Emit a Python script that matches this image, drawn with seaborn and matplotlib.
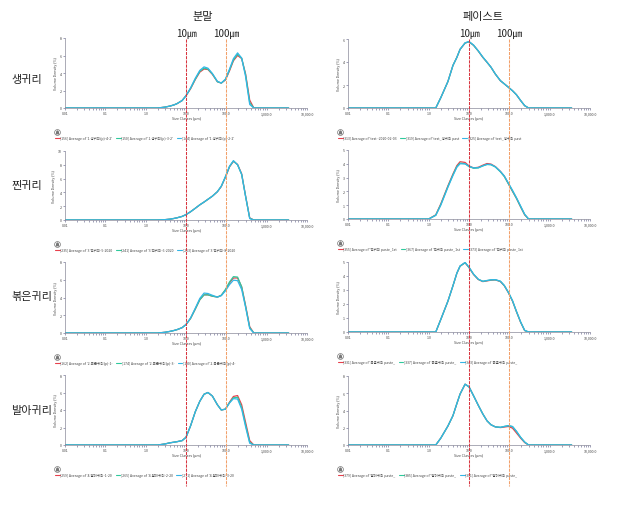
import numpy as np
import pandas as pd
import matplotlib
matplotlib.use("Agg")
import matplotlib.pyplot as plt
import seaborn as sns
from matplotlib.ticker import FixedLocator, FixedFormatter, LogLocator, NullFormatter
from matplotlib.transforms import blended_transform_factory
from matplotlib.lines import Line2D

sns.set_theme(style="white")
plt.rcParams["font.family"] = ["Noto Sans CJK KR", "DejaVu Sans"]
plt.rcParams["axes.unicode_minus"] = False

# ---------------- data ----------------
SIZES = [0.01, 1.0, 1.5, 2, 3, 4, 5, 6, 8, 10, 13, 17, 22, 28, 35, 45, 60, 75, 95,
         120, 150, 190, 240, 300, 380, 480, 600, 3500]

X_TICKS = [0.01, 0.1, 1, 10, 100, 1000, 10000]
X_TICK_LABELS = ["0.01", "0.1", "1.0", "10.0", "100.0", "1,000.0", "10,000.0"]

ROW_LABELS = ["생귀리", "찐귀리", "볶은귀리", "발아귀리"]
COL_TITLES = ["분말", "페이스트"]
REF_SIZES = [10, 100]
REF_LABELS = ["10㎛", "100㎛"]

# raw oat powder
raw_pow_red = [0, 0, 0, 0, 0.1, 0.22, 0.35, 0.5, 0.85, 1.4, 2.2, 3.25, 4.1, 4.45, 4.4, 3.85, 3.0, 2.85, 3.2, 4.25, 5.4, 6.0, 5.65, 3.9, 0.9, 0, 0, 0]
raw_pow_green = [0, 0, 0, 0, 0.1, 0.22, 0.35, 0.5, 0.85, 1.4, 2.25, 3.3, 4.2, 4.55, 4.45, 3.9, 3.0, 2.85, 3.25, 4.35, 5.5, 6.15, 5.7, 3.8, 0.6, 0, 0, 0]
raw_pow_cyan = [0, 0, 0, 0, 0.1, 0.22, 0.35, 0.5, 0.85, 1.4, 2.3, 3.4, 4.3, 4.7, 4.55, 3.95, 3.05, 2.85, 3.3, 4.45, 5.65, 6.3, 5.7, 3.6, 0.4, 0, 0, 0]
raw_pow_labels = ["[156] Average of '1.생귀리(p)-4-2'", "[150] Average of '1.생귀리(p)-3-2'", "[144] Average of '1.생귀리(p)-2-2'"]

# raw oat paste
raw_pas_red = [0, 0, 0, 0.9, 2.3, 3.7, 4.4, 5.1, 5.65, 5.75, 5.45, 4.95, 4.4, 3.97, 3.55, 2.95, 2.37, 2.1, 1.8, 1.5, 1.15, 0.65, 0.2, 0, 0, 0, 0, 0]
raw_pas_green = [0, 0, 0, 0.9, 2.3, 3.7, 4.4, 5.1, 5.65, 5.77, 5.45, 4.95, 4.42, 3.98, 3.55, 2.95, 2.38, 2.1, 1.8, 1.5, 1.15, 0.66, 0.2, 0, 0, 0, 0, 0]
raw_pas_cyan = [0, 0, 0, 0.9, 2.3, 3.7, 4.4, 5.1, 5.67, 5.78, 5.47, 4.97, 4.43, 3.98, 3.56, 2.96, 2.38, 2.1, 1.81, 1.5, 1.16, 0.66, 0.21, 0, 0, 0, 0, 0]
raw_pas_labels = ["[313] Average of 'test -2020-02-03", "[319] Average of 'test_생귀리 past", "[325] Average of 'test_생귀리 past"]

# steamed oat powder
stm_pow_red = [0, 0, 0, 0, 0.05, 0.12, 0.22, 0.32, 0.52, 0.78, 1.2, 1.7, 2.2, 2.6, 3.0, 3.45, 4.1, 4.85, 6.2, 7.7, 8.5, 8.05, 6.7, 3.5, 0.3, 0, 0, 0]
stm_pow_green = [0, 0, 0, 0, 0.05, 0.12, 0.22, 0.32, 0.52, 0.78, 1.2, 1.7, 2.2, 2.6, 3.0, 3.45, 4.1, 4.9, 6.25, 7.75, 8.55, 8.0, 6.6, 3.45, 0.25, 0, 0, 0]
stm_pow_cyan = [0, 0, 0, 0, 0.05, 0.12, 0.22, 0.32, 0.52, 0.78, 1.2, 1.7, 2.2, 2.6, 3.0, 3.45, 4.1, 4.9, 6.3, 7.8, 8.6, 8.0, 6.6, 3.4, 0.2, 0, 0, 0]
stm_pow_labels = ["[235] Average of '3.찐귀리-5-2020", "[241] Average of '3.찐귀리-6-2020", "[253] Average of '3.찐귀리-8-2020"]

# steamed oat paste
stm_pas_red = [0, 0, 0.3, 1.1, 2.4, 3.26, 3.87, 4.15, 4.1, 3.85, 3.7, 3.75, 3.9, 4.02, 3.98, 3.8, 3.45, 3.1, 2.55, 2.0, 1.5, 0.88, 0.3, 0, 0, 0, 0, 0]
stm_pas_green = [0, 0, 0.28, 1.05, 2.35, 3.2, 3.8, 4.05, 4.0, 3.8, 3.68, 3.7, 3.85, 3.95, 3.93, 3.77, 3.42, 3.08, 2.55, 2.02, 1.5, 0.9, 0.32, 0, 0, 0, 0, 0]
stm_pas_cyan = [0, 0, 0.26, 1.0, 2.3, 3.15, 3.75, 4.0, 4.0, 3.82, 3.7, 3.72, 3.85, 3.96, 3.95, 3.78, 3.45, 3.12, 2.6, 2.08, 1.55, 0.95, 0.35, 0, 0, 0, 0, 0]
stm_pas_labels = ["[355] Average of '찐귀리 paste_1st", "[367] Average of '찐귀리 paste_1st", "[373] Average of '찐귀리 paste_1st"]

# roasted oat powder
rst_pow_red = [0, 0, 0, 0, 0.08, 0.18, 0.28, 0.38, 0.6, 0.95, 1.65, 2.7, 3.75, 4.3, 4.3, 4.15, 4.05, 4.25, 4.85, 5.65, 6.2, 6.2, 5.2, 3.1, 0.7, 0, 0, 0]
rst_pow_green = [0, 0, 0, 0, 0.08, 0.18, 0.28, 0.38, 0.6, 0.95, 1.65, 2.7, 3.75, 4.3, 4.3, 4.15, 4.05, 4.25, 4.9, 5.75, 6.35, 6.3, 5.2, 3.0, 0.6, 0, 0, 0]
rst_pow_cyan = [0, 0, 0, 0, 0.08, 0.18, 0.28, 0.38, 0.6, 0.95, 1.7, 2.8, 3.9, 4.5, 4.45, 4.25, 4.05, 4.2, 4.75, 5.45, 5.95, 5.9, 4.9, 2.9, 0.5, 0, 0, 0]
rst_pow_labels = ["[162] Average of '2.볶은귀리(p)-1-", "[174] Average of '2.볶은귀리(p)-3-", "[180] Average of '2.볶은귀리(p)-4-"]

# roasted oat paste
rst_pas_red = [0, 0, 0, 0.9, 2.2, 3.3, 4.2, 4.7, 4.95, 4.6, 4.1, 3.75, 3.6, 3.65, 3.7, 3.72, 3.6, 3.3, 2.8, 2.2, 1.45, 0.7, 0.1, 0, 0, 0, 0, 0]
rst_pas_green = [0, 0, 0, 0.9, 2.2, 3.3, 4.2, 4.7, 4.95, 4.62, 4.12, 3.76, 3.62, 3.67, 3.72, 3.73, 3.62, 3.32, 2.82, 2.22, 1.47, 0.72, 0.11, 0, 0, 0, 0, 0]
rst_pas_cyan = [0, 0, 0, 0.9, 2.2, 3.3, 4.2, 4.72, 4.97, 4.63, 4.13, 3.77, 3.62, 3.68, 3.73, 3.74, 3.63, 3.33, 2.83, 2.24, 1.48, 0.73, 0.12, 0, 0, 0, 0, 0]
rst_pas_labels = ["[331] Average of '볶음귀리 paste_", "[337] Average of '볶음귀리 paste_", "[343] Average of '볶음귀리 paste_"]

# germinated oat powder
grm_pow_red = [0, 0, 0, 0, 0.12, 0.25, 0.32, 0.38, 0.5, 0.88, 2.2, 3.8, 5.0, 5.8, 6.0, 5.6, 4.6, 4.0, 4.1, 4.9, 5.55, 5.65, 4.6, 2.6, 0.5, 0, 0, 0]
grm_pow_green = [0, 0, 0, 0, 0.12, 0.25, 0.32, 0.38, 0.5, 0.88, 2.2, 3.8, 5.0, 5.8, 6.0, 5.6, 4.6, 4.0, 4.1, 4.85, 5.4, 5.45, 4.3, 2.3, 0.3, 0, 0, 0]
grm_pow_cyan = [0, 0, 0, 0, 0.12, 0.25, 0.32, 0.38, 0.5, 0.88, 2.2, 3.8, 5.0, 5.8, 6.0, 5.6, 4.6, 4.0, 4.1, 4.8, 5.3, 5.25, 4.1, 2.1, 0.2, 0, 0, 0]
grm_pow_labels = ["[259] Average of '4.발아귀리-1-20", "[265] Average of '4.발아귀리-2-20", "[271] Average of '4.발아귀리-3-20"]

# germinated oat paste
grm_pas_red = [0, 0, 0, 0.8, 2.2, 3.4, 4.8, 5.9, 7.05, 6.75, 5.7, 4.6, 3.6, 2.8, 2.35, 2.1, 2.02, 2.08, 2.15, 1.95, 1.4, 0.8, 0.28, 0, 0, 0, 0, 0]
grm_pas_green = [0, 0, 0, 0.8, 2.2, 3.4, 4.8, 5.9, 7.05, 6.75, 5.7, 4.6, 3.6, 2.8, 2.35, 2.1, 2.05, 2.15, 2.25, 2.12, 1.58, 0.9, 0.34, 0, 0, 0, 0, 0]
grm_pas_cyan = [0, 0, 0, 0.8, 2.2, 3.4, 4.8, 5.9, 7.05, 6.75, 5.7, 4.6, 3.6, 2.8, 2.35, 2.1, 2.05, 2.15, 2.25, 2.15, 1.6, 0.9, 0.35, 0, 0, 0, 0, 0]
grm_pas_labels = ["[379] Average of '발아귀리 paste_", "[385] Average of '발아귀리 paste_", "[391] Average of '발아귀리 paste_"]

# y axis maxima / steps per panel
Y_MAX = [[8, 6], [10, 5], [8, 5], [8, 8]]
Y_STEP = [[2, 2], [2, 1], [2, 1], [2, 2]]

PANELS = [
    [(raw_pow_red, raw_pow_green, raw_pow_cyan, raw_pow_labels),
     (raw_pas_red, raw_pas_green, raw_pas_cyan, raw_pas_labels)],
    [(stm_pow_red, stm_pow_green, stm_pow_cyan, stm_pow_labels),
     (stm_pas_red, stm_pas_green, stm_pas_cyan, stm_pas_labels)],
    [(rst_pow_red, rst_pow_green, rst_pow_cyan, rst_pow_labels),
     (rst_pas_red, rst_pas_green, rst_pas_cyan, rst_pas_labels)],
    [(grm_pow_red, grm_pow_green, grm_pow_cyan, grm_pow_labels),
     (grm_pas_red, grm_pas_green, grm_pas_cyan, grm_pas_labels)],
]

# ---------------- style ----------------
COLORS = ["#e8404c", "#2fc99c", "#33b6e6"]
REF_COLORS = ["#d8353f", "#f2a06a"]
TICK_COLOR = "#6a6a90"
TXT = "#444444"

W, H = 633, 506
fig = plt.figure(figsize=(W / 100, H / 100), dpi=100)
fig.patch.set_facecolor("white")

COL_LEFT = [65, 348]
AX_W = 242
ROWS_PX = [[(39, 109), (40, 109)], [(152, 221), (151, 220)],
           [(263, 334), (263, 333)], [(376, 446), (377, 446)]]

axes = [[None, None] for _ in range(4)]
for r in range(4):
    for c in range(2):
        top, bot = ROWS_PX[r][c]
        hpx = bot - top
        ax = fig.add_axes([COL_LEFT[c] / W, 1 - bot / H, AX_W / W, hpx / H])
        axes[r][c] = ax
        red, green, cyan, labels = PANELS[r][c]
        n = len(SIZES)
        df = pd.DataFrame({
            "size": SIZES * 3,
            "density": list(red) + list(green) + list(cyan),
            "series": [labels[0]] * n + [labels[1]] * n + [labels[2]] * n,
        })
        sns.lineplot(data=df, x="size", y="density", hue="series",
                     hue_order=labels, palette=COLORS, estimator=None,
                     linewidth=0.9, legend=False, ax=ax)
        ax.set_xscale("log")
        ax.set_xlim(0.01, 10000)
        ymax = Y_MAX[r][c]
        ax.set_ylim(0, ymax)
        ax.set_yticks(np.arange(0, ymax + 0.01, Y_STEP[r][c]))
        ax.yaxis.set_major_formatter(FixedFormatter([str(int(v)) for v in np.arange(0, ymax + 0.01, Y_STEP[r][c])]))
        ax.xaxis.set_major_locator(FixedLocator(X_TICKS))
        ax.xaxis.set_major_formatter(FixedFormatter(X_TICK_LABELS))
        ax.xaxis.set_minor_locator(LogLocator(base=10, subs=np.arange(2, 10), numticks=20))
        ax.xaxis.set_minor_formatter(NullFormatter())
        ax.tick_params(axis="both", which="major", length=1.6, width=0.45,
                       color=TICK_COLOR, labelsize=2.6, pad=0.8, labelcolor=TXT,
                       bottom=True, left=True)
        ax.tick_params(axis="x", which="minor", length=1.3, width=0.45,
                       color=TICK_COLOR, bottom=True)
        for s in ["top", "right"]:
            ax.spines[s].set_visible(False)
        for s in ["left", "bottom"]:
            ax.spines[s].set_color("#8a8a9a")
            ax.spines[s].set_linewidth(0.5)
        ax.set_facecolor("none")
        ax.grid(False)
        ax.set_xlabel("Size Classes (μm)", fontsize=2.6, labelpad=0.8, color=TXT)
        ax.set_ylabel("Volume Density (%)", fontsize=2.6, labelpad=1.0, color=TXT)

        # legend below the panel
        handles = [Line2D([], [], color=col, lw=0.8) for col in COLORS]
        ax.legend(handles, labels, loc="upper left",
                  bbox_to_anchor=(-10 / AX_W, -28 / hpx), ncol=3,
                  fontsize=2.5, frameon=False, handlelength=1.3,
                  handletextpad=0.25, columnspacing=1.0, borderaxespad=0,
                  borderpad=0, labelcolor=TXT)
        # small collapse icon
        ax.plot([-8 / AX_W], [-24 / hpx], marker="o", ms=4.2, mfc="white",
                mec="#777777", mew=0.5, transform=ax.transAxes, clip_on=False)
        ax.plot([-8 / AX_W], [-24.3 / hpx], marker=r"$\wedge$", ms=2.0,
                color="#777777", transform=ax.transAxes, clip_on=False)

# reference size lines spanning the whole figure
for c in range(2):
    ax = axes[0][c]
    tr = blended_transform_factory(ax.transData, fig.transFigure)
    for xv, col, lab in zip(REF_SIZES, REF_COLORS, REF_LABELS):
        fig.add_artist(Line2D([xv, xv], [1 - 40 / H, 1 - 487 / H], transform=tr,
                              color=col, lw=0.75, ls=(0, (3, 1)), zorder=10))
        fig.text(xv, 1 - 34 / H, lab, transform=tr, ha="center", va="center",
                 fontsize=7, color="#222222")

# column titles
fig.text(203 / W, 1 - 17 / H, COL_TITLES[0], ha="center", va="center", fontsize=8, color="#222222")
fig.text(483 / W, 1 - 17 / H, COL_TITLES[1], ha="center", va="center", fontsize=8, color="#222222")

# row labels
for lab, yc in zip(ROW_LABELS, [80, 186, 297, 411]):
    fig.text(11 / W, 1 - yc / H, lab, ha="left", va="center", fontsize=8, color="#222222")

fig.savefig("out.png", dpi=100, facecolor="white")
